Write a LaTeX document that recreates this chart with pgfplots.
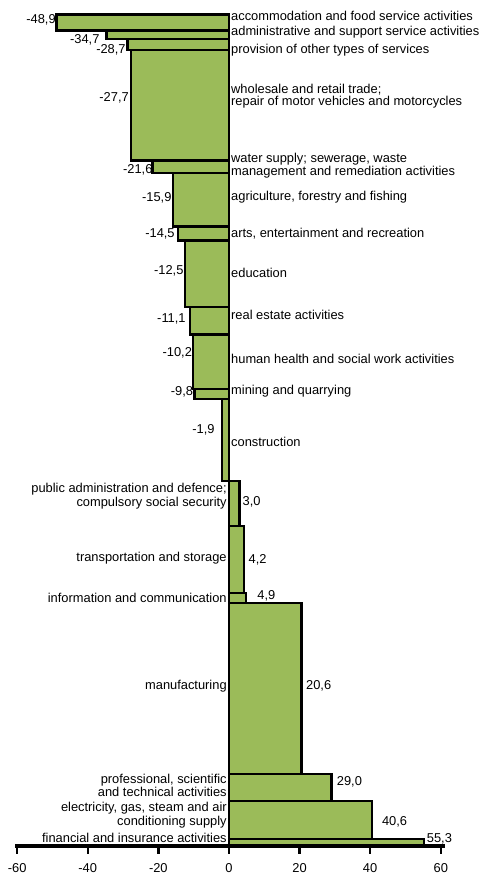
\documentclass[border=0pt]{standalone}
\usepackage{pgfplots}
\pgfplotsset{compat=1.18}
\usepackage{pgfplotstable}
\usepackage{fontspec}
\setmainfont{Liberation Sans}
\definecolor{barg}{HTML}{9BBB59}
\newcommand\lab{\fontsize{9.65}{8.9}\selectfont}
\tikzset{lbl/.style={font=\lab, inner sep=0pt}}

% value = change, y = lower edge of the band (cumulative share, %), bottom to top
\pgfplotstableread{
v y
55.3 0
40.6 0.84
29.0 5.38
20.6 8.66
4.9 29.20
4.2 30.40
3.0 38.49
-1.9 43.87
-9.8 53.74
-10.2 54.94
-11.1 61.51
-12.5 64.87
-14.5 72.81
-15.9 74.50
-21.6 80.92
-27.7 82.44
-28.7 95.75
-34.7 97.04
-48.9 98.07
0 100
}\data

\begin{document}
\begin{tikzpicture}
\useasboundingbox (0,0) rectangle (359.25pt,654.75pt);
\begin{axis}[
  at={(11.25pt,20.25pt)}, anchor=south west,
  scale only axis, width=322.5pt, height=623.5pt,
  xmin=-60.6, xmax=61.2, ymin=0, ymax=100,
  axis x line=bottom, axis y line=none,
  x axis line style={-, line width=2.4pt, black},
  xtick={-60,-40,-20,0,20,40,60},
  xticklabels={-60,-40,-20,0,20,40,60},
  tick align=outside, major tick length=6pt,
  tick style={black, line width=1.8pt},
  ticklabel style={font=\lab, black, yshift=-3.5pt},
  axis on top, clip=false,
]
\addplot[xbar interval, fill=barg, draw=black, line width=1.8pt] table[x=v, y=y] {\data};

% value labels
\node[lbl, anchor=east] at (axis cs:-49.0,99.36) {-48,9};
\node[lbl, anchor=east] at (axis cs:-36.6,97.0) {-34,7};
\node[lbl, anchor=east] at (axis cs:-29.2,95.8) {-28,7};
\node[lbl, anchor=east] at (axis cs:-28.3,90.04) {-27,7};
\node[lbl, anchor=east] at (axis cs:-21.6,81.3) {-21,6};
\node[lbl, anchor=east] at (axis cs:-16.2,77.99) {-15,9};
\node[lbl, anchor=east] at (axis cs:-15.3,73.58) {-14,5};
\node[lbl, anchor=east] at (axis cs:-12.8,69.2) {-12,5};
\node[lbl, anchor=east] at (axis cs:-12.2,63.43) {-11,1};
\node[lbl, anchor=east] at (axis cs:-10.4,59.34) {-10,2};
\node[lbl, anchor=east] at (axis cs:-10.1,54.58) {-9,8};
\node[lbl, anchor=east] at (axis cs:-4.0,50.04) {-1,9};
\node[lbl, anchor=west] at (axis cs:3.8,41.38) {3,0};
\node[lbl, anchor=west] at (axis cs:5.5,34.37) {4,2};
\node[lbl, anchor=west] at (axis cs:8.0,30.15) {4,9};
\node[lbl, anchor=west] at (axis cs:21.8,19.31) {20,6};
\node[lbl, anchor=west] at (axis cs:30.5,7.74) {29,0};
\node[lbl, anchor=west] at (axis cs:43.3,2.89) {40,6};
\node[lbl, anchor=west] at (axis cs:56.0,0.9) {55,3};

% category labels, right side
\node[lbl, anchor=west, xshift=1.5pt] at (axis cs:0,99.84) {accommodation and food service activities};
\node[lbl, anchor=west, xshift=1.5pt] at (axis cs:0,97.88) {administrative and support service activities};
\node[lbl, anchor=west, xshift=1.5pt] at (axis cs:0,95.67) {provision of other types of services};
\node[lbl, anchor=west, xshift=1.5pt, align=left] at (axis cs:0,90.2) {wholesale and retail trade;\\repair of motor vehicles and motorcycles};
\node[lbl, anchor=west, xshift=1.5pt, align=left] at (axis cs:0,81.83) {water supply; sewerage, waste\\management and remediation activities};
\node[lbl, anchor=west, xshift=1.5pt] at (axis cs:0,78.0) {agriculture, forestry and fishing};
\node[lbl, anchor=west, xshift=1.5pt] at (axis cs:0,73.6) {arts, entertainment and recreation};
\node[lbl, anchor=west, xshift=1.5pt] at (axis cs:0,68.97) {education};
\node[lbl, anchor=west, xshift=1.5pt] at (axis cs:0,63.88) {real estate activities};
\node[lbl, anchor=west, xshift=1.5pt] at (axis cs:0,58.58) {human health and social work activities};
\node[lbl, anchor=west, xshift=1.5pt] at (axis cs:0,54.65) {mining and quarrying};
\node[lbl, anchor=west, xshift=1.5pt] at (axis cs:0,48.64) {construction};
% category labels, left side
\node[lbl, anchor=east, xshift=-1.5pt, align=right] at (axis cs:0,42.07) {public administration and defence;\\compulsory social security};
\node[lbl, anchor=east, xshift=-1.5pt] at (axis cs:0,34.61) {transportation and storage};
\node[lbl, anchor=east, xshift=-1.5pt] at (axis cs:0,29.80) {information and communication};
\node[lbl, anchor=east, xshift=-1.5pt] at (axis cs:0,19.25) {manufacturing};
\node[lbl, anchor=east, xshift=-1.5pt, align=right] at (axis cs:0,7.3) {professional, scientific\\and technical activities};
\node[lbl, anchor=east, xshift=-1.5pt, align=right] at (axis cs:0,3.69) {electricity, gas, steam and air\\conditioning supply};
\node[lbl, anchor=east, xshift=-1.5pt] at (axis cs:0,0.92) {financial and insurance activities};
\end{axis}
\end{tikzpicture}
\end{document}
